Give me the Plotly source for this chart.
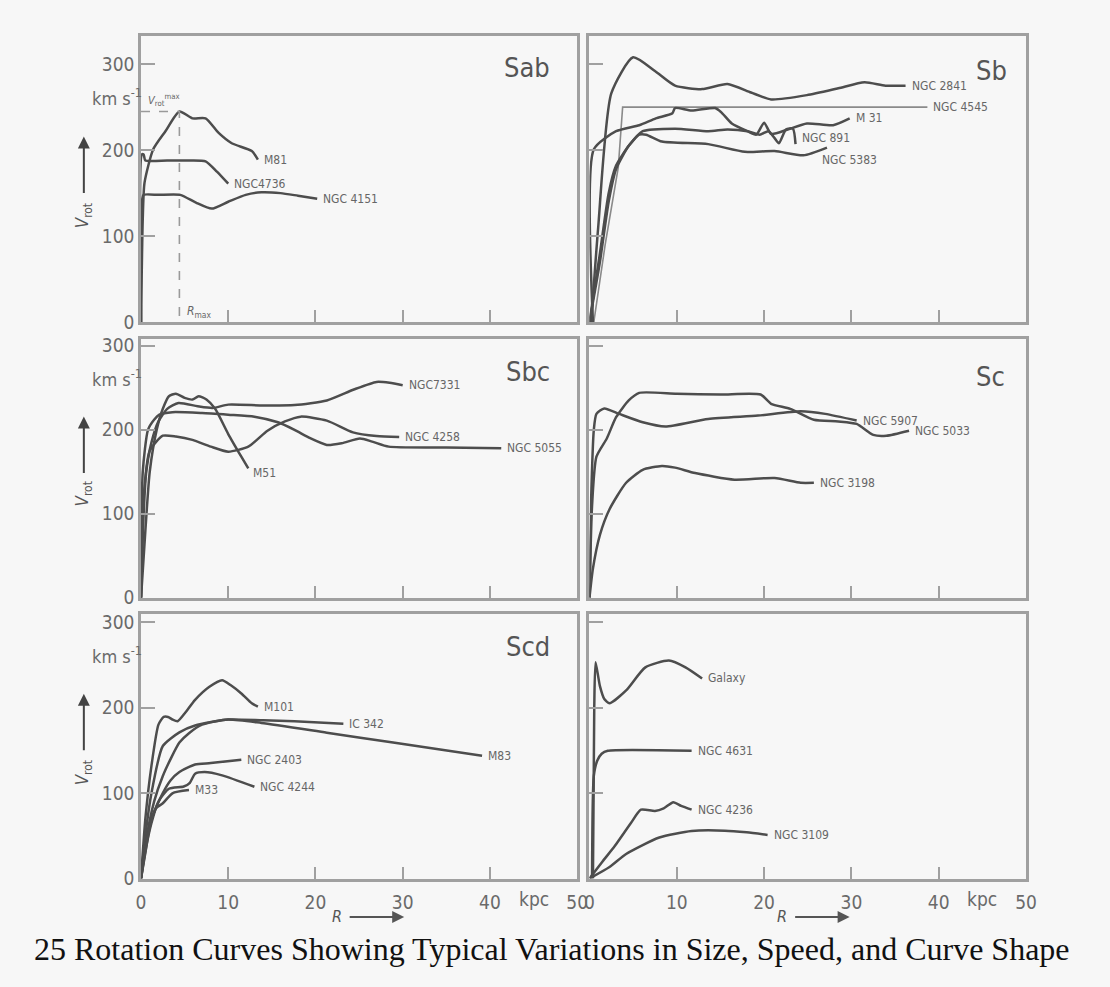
import plotly.graph_objects as go

FIG_W, FIG_H = 1110, 987

# ---------------- data (R in kpc, V_rot in km/s) ----------------
# Sab
M81_R = [0, 0.2, 0.4, 1.4, 2.8, 4.4, 5.9, 7.4, 8.9, 10.4, 12.7, 13.4]
M81_V = [0, 120, 162, 201, 222, 245, 237, 237, 220, 208, 199, 189]
NGC4736_R = [0, 0.1, 0.3, 0.5, 3.0, 5.5, 7.4, 8.7, 10.0]
NGC4736_V = [0, 195, 195, 188, 188, 188, 187, 175, 161]
NGC4151_R = [0, 0.1, 0.3, 2.0, 4.5, 6.3, 8.1, 10.0, 12.0, 13.8, 16.0, 18.0, 20.2]
NGC4151_V = [0, 140, 148, 148, 148, 139, 132, 140, 148, 151, 150, 147, 143.5]
# Sb
NGC2841_R = [0.2, 1.0, 2.5, 5.0, 7.5, 9.8, 12.9, 15.8, 18.5, 20.8, 24.9, 28.5, 31.5, 33.9, 36.2]
NGC2841_V = [0, 110, 266, 308, 292, 275, 271, 277, 267, 259, 264, 272, 279, 275, 275]
NGC4545_R = [0.5, 1.8, 3.3, 3.8, 38.7]
NGC4545_V = [0, 90, 180, 250, 250]
M31_R = [0.4, 0.5, 3.05, 5.7, 7.6, 9.5, 9.8, 11.7, 14.4, 15.1, 16.3, 18.1, 19.1, 20.0, 20.8, 22.7, 24.9, 27.9, 29.8]
M31_V = [0, 201, 222, 229, 237, 243, 249, 246, 249, 244, 231, 222, 218, 232, 219, 224, 231, 229, 237]
NGC891_R = [0, 1.2, 2.2, 3.05, 4.5, 6.1, 9.8, 13.6, 15.8, 18.1, 19.5, 20.5, 21.2, 21.7, 22.5, 23.3, 23.6]
NGC891_V = [0, 80, 150, 182, 205, 222, 225, 222, 224, 222, 218, 222, 214, 208, 224, 225, 207]
NGC5383_R = [0, 1.2, 2.2, 3.05, 4.5, 5.7, 6.5, 8.3, 13.6, 17.8, 21.2, 24.5, 27.2]
NGC5383_V = [0, 70, 140, 178, 205, 218, 218, 210, 207, 198, 199, 194, 203]
# Sbc
NGC7331_R = [0, 0.3, 0.6, 1.2, 2.0, 3.0, 4.3, 6.5, 8.2, 10, 14, 17.6, 21.3, 24.4, 27, 28.5, 30]
NGC7331_V = [0, 100, 150, 185, 210, 225, 232, 228, 226, 230, 229, 229.5, 235, 248, 257, 256, 253]
M51_R = [0, 0.5, 1.0, 1.8, 2.5, 3.2, 4.0, 5.0, 5.9, 6.6, 7.5, 8.5, 10, 11.5, 12.3]
M51_V = [0, 80, 150, 200, 225, 240, 243, 238, 236, 240, 236, 225, 195, 168, 154]
NGC5055_R = [0, 0.2, 0.8, 1.5, 2.1, 3.6, 7, 10, 13, 15.7, 17.6, 19.4, 21.3, 23, 25.1, 26.5, 28.4, 35, 41.3]
NGC5055_V = [0, 150, 200, 212, 218, 221, 220, 218, 215.7, 209, 200, 190, 182, 184, 189.6, 186, 180, 179, 178]
NGC4258_R = [0, 0.3, 1.0, 2.5, 4, 5.9, 8, 10, 12.3, 14.5, 16.5, 18.3, 21.3, 24.3, 27, 29.6]
NGC4258_V = [0, 120, 175, 193, 192, 188, 180, 174, 180, 199, 210, 215.7, 211, 197, 192.6, 191.5]
# Sc
NGC5033_R = [0, 0.3, 0.8, 2.0, 3.05, 4.5, 5.7, 10, 15, 19.6, 20.8, 23.0, 25.7, 28.5, 30.6, 32.5, 34.0, 36.6]
NGC5033_V = [0, 110, 168, 190, 215, 235, 244, 243, 242, 242, 231, 225, 212, 210, 207, 194, 193, 199]
NGC5907_R = [0, 0.2, 0.5, 0.8, 1.7, 3.4, 6.1, 8.7, 13.6, 19.3, 24.2, 27, 30.6]
NGC5907_V = [0, 120, 200, 219, 225.5, 219, 209, 204, 213, 217, 222, 219, 211]
NGC3198_R = [0, 0.4, 1.2, 2.3, 4.2, 6.1, 8.3, 9.8, 12.1, 16.6, 21.2, 24.2, 25.7]
NGC3198_V = [0, 35, 75, 105.5, 137, 152.4, 157, 155, 148.5, 140.7, 142.7, 137, 137]
# Scd
M101_R = [0, 0.5, 1.2, 2.0, 2.6, 3.1, 3.6, 4.2, 5.0, 6.2, 7.8, 9.3, 10.3, 11.5, 12.7, 13.4]
M101_V = [0, 70, 132, 180, 189, 189, 186, 184, 193, 209, 224, 232, 226, 216.5, 205, 201]
IC342_R = [0, 0.5, 1.2, 2.5, 4.4, 6.2, 10, 14, 17.6, 23.2]
IC342_V = [0, 50, 100, 155, 171, 179, 186, 185, 184, 181]
M83_R = [0, 0.5, 1.5, 2.5, 3.5, 4.4, 5.5, 7, 10, 13.8, 21.3, 28.9, 39.1]
M83_V = [0, 40, 90, 120, 142, 159, 170, 180, 186, 182, 170.6, 159, 143.7]
NGC2403_R = [0, 0.5, 1.2, 2.5, 3.4, 4.4, 6.2, 8, 11.5]
NGC2403_V = [0, 35, 70, 100, 115, 124.6, 133.4, 135, 139]
NGC4244_R = [0, 0.5, 1.2, 2.0, 3.2, 4.9, 5.6, 6.2, 7.3, 9.3, 13]
NGC4244_V = [0, 32, 65, 90, 105, 107.6, 112, 122.6, 124.6, 120.7, 107.3]
M33_R = [0, 0.5, 1.0, 1.7, 2.5, 3.6, 5.5]
M33_V = [0, 30, 60, 82, 88, 99.7, 103.4]
# Irregular / Galaxy panel
GALAXY_R = [0.4, 0.55, 0.7, 1.2, 1.7, 2.3, 4.2, 6.4, 9.1, 11, 12.9]
GALAXY_V = [0, 200, 253, 225, 210, 205, 220, 247, 255, 247, 234]
NGC4631_R = [0.3, 0.5, 0.9, 1.4, 2.1, 11.7]
NGC4631_V = [0, 120, 138, 146, 149.4, 149.4]
NGC4236_R = [0, 1.5, 2.9, 4.75, 5.9, 7.5, 8.5, 9.6, 10.5, 11.7]
NGC4236_V = [0, 20, 38, 65, 80.5, 79, 82, 89.3, 85, 80.5]
NGC3109_R = [0, 2.3, 4.2, 8, 11.7, 15.5, 18, 20.4]
NGC3109_V = [0, 13.4, 28.7, 48, 55.6, 56, 54, 51]

PANEL_NAMES = ["Sab", "Sb", "Sbc", "Sc", "Scd", ""]
X_TICKS = [0, 10, 20, 30, 40, 50]
X_TICK_TEXT = ["0", "10", "20", "30", "40", "50"]
Y_TICKS = [0, 100, 200, 300]
Y_TICK_TEXT = ["0", "100", "200", "300"]
V_MAX_SAB = 245
R_MAX_SAB = 4.4

CURVES = [
    (0, "M81", M81_R, M81_V), (0, "NGC4736", NGC4736_R, NGC4736_V), (0, "NGC 4151", NGC4151_R, NGC4151_V),
    (1, "NGC 2841", NGC2841_R, NGC2841_V), (1, "NGC 4545", NGC4545_R, NGC4545_V), (1, "M 31", M31_R, M31_V),
    (1, "NGC 891", NGC891_R, NGC891_V), (1, "NGC 5383", NGC5383_R, NGC5383_V),
    (2, "NGC7331", NGC7331_R, NGC7331_V), (2, "M51", M51_R, M51_V), (2, "NGC 5055", NGC5055_R, NGC5055_V),
    (2, "NGC 4258", NGC4258_R, NGC4258_V),
    (3, "NGC 5033", NGC5033_R, NGC5033_V), (3, "NGC 5907", NGC5907_R, NGC5907_V), (3, "NGC 3198", NGC3198_R, NGC3198_V),
    (4, "M101", M101_R, M101_V), (4, "IC 342", IC342_R, IC342_V), (4, "M83", M83_R, M83_V),
    (4, "NGC 2403", NGC2403_R, NGC2403_V), (4, "NGC 4244", NGC4244_R, NGC4244_V), (4, "M33", M33_R, M33_V),
    (5, "Galaxy", GALAXY_R, GALAXY_V), (5, "NGC 4631", NGC4631_R, NGC4631_V), (5, "NGC 4236", NGC4236_R, NGC4236_V),
    (5, "NGC 3109", NGC3109_R, NGC3109_V),
]

# ---------------- styling / layout ----------------
BG = "#f7f7f7"
FRAME = "#a0a0a0"
CURVE = "#4d4d4d"
TXT = "#6a6a6a"
FONT_N = "Liberation Sans Narrow, DejaVu Sans Condensed, Roboto, sans-serif"

COL_PX = [(138, 580.5), (593, 1036)]
ROW_PX = [(33, 323, 0.873), (340, 603, 0.853), (619, 888, 0.868)]  # top, bottom, px per km/s
LABEL_SHIFT = {"NGC 891": (4, 6), "NGC 5383": (-7, -12), "M51": (3, -5)}
THIN = {"NGC 4545"}
TITLE_POS = {0: (0.942, 0.893), 1: (0.96, 0.88), 2: (0.942, 0.875), 3: (0.957, 0.855), 4: (0.942, 0.877)}

fig = go.Figure()
layout = dict(
    width=FIG_W, height=FIG_H, margin=dict(l=0, r=0, t=0, b=0),
    paper_bgcolor=BG, plot_bgcolor=BG, showlegend=False,
    font=dict(family=FONT_N, color=TXT),
)
annotations = []

for p in range(6):
    row, col = divmod(p, 2)
    n = p + 1
    x0, x1 = COL_PX[col]
    top, bot, scale = ROW_PX[row]
    xa = dict(
        domain=[x0 / FIG_W, x1 / FIG_W], range=[0, 50], anchor=f"y{n}",
        showgrid=False, zeroline=False, showline=True, mirror=True, linecolor=FRAME, linewidth=2.5,
        ticks="inside", ticklen=12, tickwidth=1.5, tickcolor=FRAME,
        tickvals=X_TICKS, ticktext=X_TICK_TEXT, showticklabels=(row == 2),
        tickfont=dict(size=19, color=TXT, family=FONT_N), ticklabelstandoff=5,
    )
    ya = dict(
        domain=[(FIG_H - bot) / FIG_H, (FIG_H - top) / FIG_H], range=[0, (bot - top) / scale], anchor=f"x{n}",
        showgrid=False, zeroline=False, showline=True, mirror=True, linecolor=FRAME, linewidth=2.5,
        ticks="inside", ticklen=14, tickwidth=1.5, tickcolor=FRAME,
        tickvals=Y_TICKS, ticktext=Y_TICK_TEXT, showticklabels=(col == 0),
        tickfont=dict(size=19, color=TXT, family=FONT_N),
    )
    layout["xaxis" if n == 1 else f"xaxis{n}"] = xa
    layout["yaxis" if n == 1 else f"yaxis{n}"] = ya

    xr = "x" if n == 1 else f"x{n}"
    yr = "y" if n == 1 else f"y{n}"
    if PANEL_NAMES[p]:
        tx, ty = TITLE_POS[p]
        annotations.append(dict(text=PANEL_NAMES[p], xref=f"{xr} domain", yref=f"{yr} domain",
                                x=tx, y=ty, xanchor="right", yanchor="middle", showarrow=False,
                                font=dict(size=27, color="#555", family=FONT_N)))
    if col == 0:
        annotations.append(dict(text="km s<sup>-1</sup>", xref="paper", yref=yr, x=114 / FIG_W, y=262,
                                xanchor="center", yanchor="middle", showarrow=False,
                                font=dict(size=18, color=TXT, family=FONT_N)))
        annotations.append(dict(text="", xref="paper", yref=yr, x=80 / FIG_W, y=216, ax=0, ay=58,
                                axref="pixel", ayref="pixel", showarrow=True, arrowhead=2, arrowsize=1.2,
                                arrowwidth=2, arrowcolor="#444"))
        annotations.append(dict(text="<i>V</i><sub>rot</sub>", xref="paper", yref=yr, x=80 / FIG_W, y=124,
                                xanchor="center", yanchor="middle", showarrow=False, textangle=-90,
                                font=dict(size=17, color="#555", family=FONT_N)))

# curves
for p, name, R, V in CURVES:
    n = p + 1
    xr = "x" if n == 1 else f"x{n}"
    yr = "y" if n == 1 else f"y{n}"
    thin = name in THIN
    fig.add_trace(go.Scatter(
        x=R, y=V, mode="lines", xaxis=xr, yaxis=yr, name=name, hoverinfo="name",
        line=dict(color="#8a8a8a" if thin else CURVE, width=1.6 if thin else 2.5,
                  shape="linear" if thin else "spline", smoothing=0.6),
    ))
    dx, dy = LABEL_SHIFT.get(name, (4, 0))
    annotations.append(dict(text=name, xref=xr, yref=yr, x=R[-1], y=V[-1], xanchor="left", yanchor="middle",
                            xshift=dx, yshift=dy, showarrow=False,
                            font=dict(size=12, color="#666", family=FONT_N)))

# Sab: V_rot^max / R_max construction
fig.add_trace(go.Scatter(x=[0, R_MAX_SAB, R_MAX_SAB], y=[V_MAX_SAB, V_MAX_SAB, 0], mode="lines",
                         xaxis="x", yaxis="y", hoverinfo="skip",
                         line=dict(color="#9a9a9a", width=1.6, dash="dash")))
annotations.append(dict(text="<i>V</i><sub>rot</sub><sup>max</sup>", xref="x", yref="y", x=2.6, y=258,
                        xanchor="center", yanchor="middle", showarrow=False,
                        font=dict(size=11, color="#666", family=FONT_N)))
annotations.append(dict(text="<i>R</i><sub>max</sub>", xref="x", yref="y", x=R_MAX_SAB + 0.6, y=12,
                        xanchor="left", yanchor="middle", showarrow=False,
                        font=dict(size=12, color="#666", family=FONT_N)))

# bottom row: kpc unit and R arrow
for xr, yr, rx, tip in (("x5", "y5", 337, 405), ("x6", "y6", 788, 857)):
    annotations.append(dict(text="kpc", xref=xr, yref=f"{yr} domain", x=45, y=-0.078, xanchor="center",
                            yanchor="middle", showarrow=False, font=dict(size=19, color=TXT, family=FONT_N)))
    annotations.append(dict(text="<i>R</i>", xref="paper", yref="paper", x=rx / FIG_W, y=(FIG_H - 927) / FIG_H,
                            xanchor="center", yanchor="middle", showarrow=False,
                            font=dict(size=16, color="#555", family=FONT_N)))
    annotations.append(dict(text="", xref="paper", yref="paper", x=tip / FIG_W, y=(FIG_H - 927) / FIG_H,
                            ax=-56, ay=0, axref="pixel", ayref="pixel", showarrow=True, arrowhead=2,
                            arrowsize=1.2, arrowwidth=2, arrowcolor="#555"))

# caption
annotations.append(dict(text="25 Rotation Curves Showing Typical Variations in Size, Speed, and Curve Shape",
                        xref="paper", yref="paper", x=0.5, y=(FIG_H - 960) / FIG_H, xanchor="center",
                        yanchor="middle", showarrow=False,
                        font=dict(size=32, color="#111", family="Liberation Serif, Times New Roman, serif")))

layout["annotations"] = annotations
fig.update_layout(**layout)
fig.write_html("out.html", config={"displayModeBar": False},
               post_script="document.body.style.margin='0';document.body.style.overflow='hidden';")
